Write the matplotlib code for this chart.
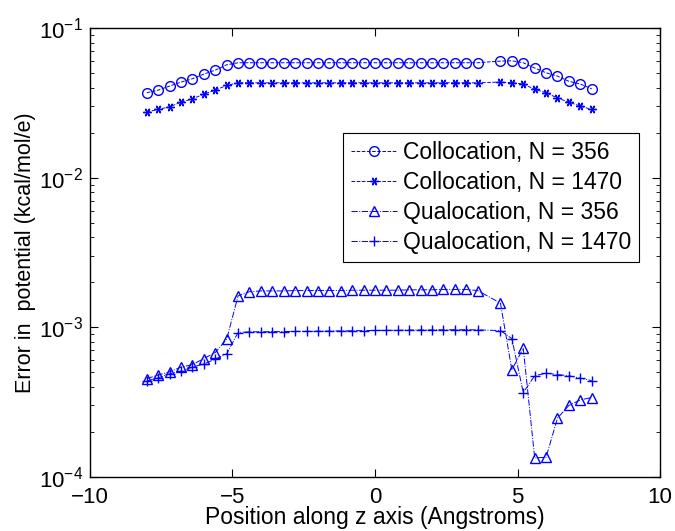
import numpy as np
import matplotlib
matplotlib.use("Agg")
import matplotlib.pyplot as plt
from matplotlib.ticker import LogLocator

plt.rcParams['font.family'] = ['Liberation Sans', 'DejaVu Sans']
plt.rcParams['mathtext.fontset'] = 'custom'
plt.rcParams['mathtext.rm'] = 'Liberation Sans'
plt.rcParams['mathtext.it'] = 'Liberation Sans'

# positions along z (no sample at 4.0)
z = [-8.0, -7.6, -7.2, -6.8, -6.4, -6.0, -5.6, -5.2, -4.8, -4.4,
     -4.0, -3.6, -3.2, -2.8, -2.4, -2.0, -1.6, -1.2, -0.8, -0.4,
     0.0, 0.4, 0.8, 1.2, 1.6, 2.0, 2.4, 2.8, 3.2, 3.6,
     4.4, 4.8, 5.2, 5.6, 6.0, 6.4, 6.8, 7.2, 7.6]

colloc_356 = [0.0370, 0.0385, 0.0410, 0.0436, 0.0459, 0.0493, 0.0524, 0.0569, 0.0587, 0.0587,
              0.0587, 0.0587, 0.0587, 0.0587, 0.0587, 0.0587, 0.0587, 0.0587, 0.0587, 0.0587,
              0.0587, 0.0587, 0.0587, 0.0587, 0.0587, 0.0587, 0.0587, 0.0587, 0.0587, 0.0587,
              0.0602, 0.0605, 0.0587, 0.0541, 0.0503, 0.0478, 0.0441, 0.0423, 0.0393]

colloc_1470 = [0.0275, 0.0286, 0.0298, 0.0320, 0.0337, 0.0362, 0.0385, 0.0414, 0.0431, 0.0431,
               0.0431, 0.0431, 0.0431, 0.0431, 0.0431, 0.0431, 0.0431, 0.0431, 0.0431, 0.0431,
               0.0431, 0.0431, 0.0431, 0.0431, 0.0431, 0.0431, 0.0431, 0.0431, 0.0431, 0.0431,
               0.0436, 0.0431, 0.0423, 0.0390, 0.0370, 0.0341, 0.0320, 0.0301, 0.0286]

qualoc_356 = [4.54e-4, 4.79e-4, 5.04e-4, 5.41e-4, 5.63e-4, 6.18e-4, 6.78e-4, 8.33e-4, 1.62e-3, 1.73e-3,
              1.75e-3, 1.75e-3, 1.75e-3, 1.76e-3, 1.76e-3, 1.76e-3, 1.76e-3, 1.76e-3, 1.77e-3, 1.77e-3,
              1.77e-3, 1.77e-3, 1.77e-3, 1.78e-3, 1.78e-3, 1.78e-3, 1.79e-3, 1.79e-3, 1.79e-3, 1.76e-3,
              1.45e-3, 5.19e-4, 7.25e-4, 1.34e-4, 1.35e-4, 2.47e-4, 3.00e-4, 3.27e-4, 3.39e-4]

qualoc_1470 = [4.37e-4, 4.59e-4, 4.88e-4, 5.09e-4, 5.41e-4, 5.69e-4, 6.12e-4, 6.64e-4, 9.22e-4, 9.32e-4,
               9.33e-4, 9.35e-4, 9.36e-4, 9.38e-4, 9.40e-4, 9.42e-4, 9.44e-4, 9.46e-4, 9.48e-4, 9.50e-4,
               9.52e-4, 9.54e-4, 9.56e-4, 9.58e-4, 9.60e-4, 9.61e-4, 9.62e-4, 9.63e-4, 9.63e-4, 9.61e-4,
               9.50e-4, 8.40e-4, 3.66e-4, 4.74e-4, 4.93e-4, 4.83e-4, 4.74e-4, 4.57e-4, 4.40e-4]

labels = ['Collocation, N = 356', 'Collocation, N = 1470',
          'Qualocation, N = 356', 'Qualocation, N = 1470']

fig = plt.figure(figsize=(6.75, 5.31), dpi=100)
ax = fig.add_axes([0.133, 0.102, 0.845, 0.845])

blue = (0, 0, 1)
lw = 0.7
ax.semilogy(z, colloc_356, '--', color=blue, lw=lw, marker='o', ms=7,
            mfc='none', mew=1.0, label=labels[0])
ax.semilogy(z, colloc_1470, '--', color=blue, lw=lw, marker=(6, 2, 90), ms=6,
            mew=1.0, label=labels[1])
ax.semilogy(z, qualoc_356, '-.', color=blue, lw=lw, marker='^', ms=7,
            mfc='none', mew=1.0, label=labels[2])
ax.semilogy(z, qualoc_1470, '-.', color=blue, lw=lw, marker='+', ms=7,
            mew=1.0, label=labels[3])

ax.set_xlim(-10, 10)
ax.set_ylim(1e-4, 1e-1)
ax.set_xticks([-10, -5, 0, 5, 10])
ax.set_xticklabels(['\u221210', '\u22125', '0', '5', '10'])
ax.yaxis.set_major_locator(LogLocator(base=10, numticks=10))
ax.yaxis.set_minor_locator(LogLocator(base=10, subs=np.arange(2, 10), numticks=10))

ax.tick_params(which='both', direction='in', top=True, right=True, labelsize=16)
ax.tick_params(axis='x', pad=7)
ax.tick_params(axis='y', pad=5)
ax.tick_params(which='major', length=6, width=0.8)
ax.tick_params(which='minor', length=3, width=0.6)
for s in ax.spines.values():
    s.set_linewidth(1.0)

ax.set_xlabel('Position along z axis (Angstroms)', fontsize=16.5, labelpad=-1)
ax.set_ylabel('Error in  potential (kcal/mol/e)', fontsize=15.5, labelpad=2)

leg = ax.legend(loc='upper right', bbox_to_anchor=(0.963, 0.766), fontsize=16.5,
                handlelength=2.0, handletextpad=0.25, borderpad=0.35,
                labelspacing=0.3, fancybox=False, framealpha=1,
                edgecolor='black', borderaxespad=0)
leg.get_frame().set_linewidth(0.8)

fig.savefig('out.png', dpi=100)
